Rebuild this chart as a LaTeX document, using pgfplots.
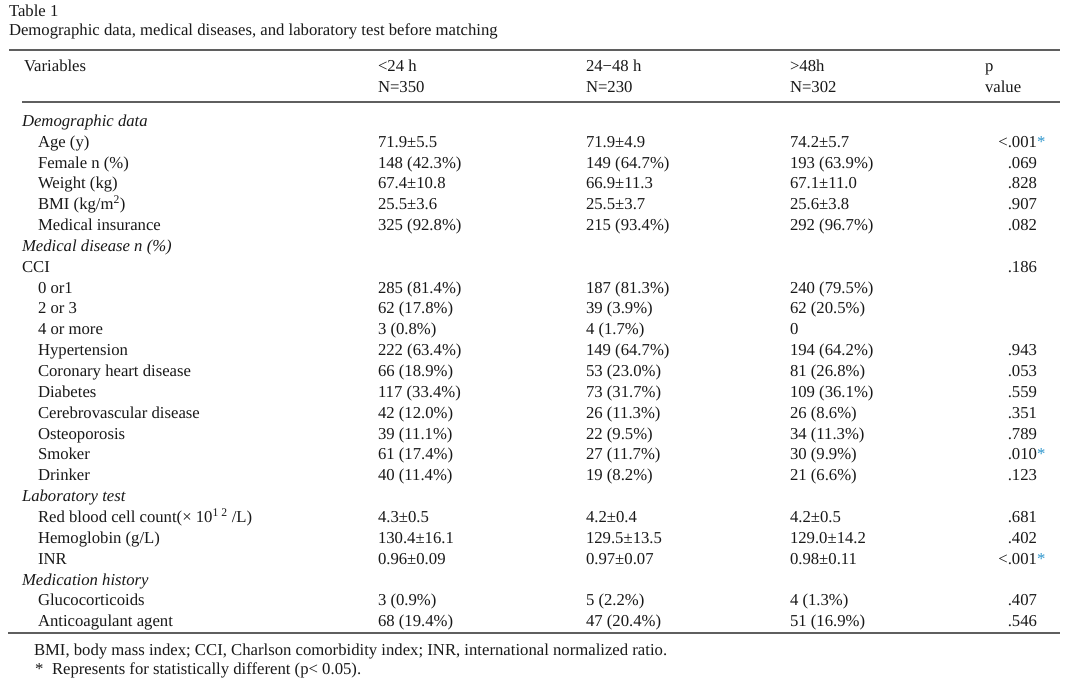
\documentclass[border=0pt]{standalone}
\usepackage{pgfplots}
\pgfplotsset{compat=1.18}
\usepackage{fontspec}
\setmainfont{Liberation Serif}
\definecolor{star}{RGB}{45,150,205}
\definecolor{rulec}{RGB}{95,95,95}
\definecolor{txt}{RGB}{25,25,25}
\newcommand{\fs}{\fontsize{16.7bp}{19bp}\selectfont}
\newcommand{\st}{\rlap{\textcolor{star}{*}}}
\newcommand{\R}[7]{%
  \node[anchor=base west] at (axis cs:#1,{126.3+20.85*#2}) {#3};
  \node[anchor=base west] at (axis cs:378,{126.3+20.85*#2}) {#4};
  \node[anchor=base west] at (axis cs:586,{126.3+20.85*#2}) {#5};
  \node[anchor=base west] at (axis cs:790,{126.3+20.85*#2}) {#6};
  \node[anchor=base east] at (axis cs:1037,{126.3+20.85*#2}) {#7};
}
\begin{document}
\begin{tikzpicture}[every node/.style={inner sep=0pt, outer sep=0pt, font=\fs, text=txt}]
\begin{axis}[hide axis, scale only axis, width=1080bp, height=683bp,
  xmin=0, xmax=1080, ymin=0, ymax=683, y dir=reverse, clip=false]
\fill[white] (axis cs:0,0) rectangle (axis cs:1080,683);
% title
\node[anchor=base west] at (axis cs:9,17) {Table 1};
\node[anchor=base west] at (axis cs:9,36) {Demographic data, medical diseases, and laboratory test before matching};
% rules
\draw[rulec, line width=1.5bp] (axis cs:9,50) -- (axis cs:1060,50);
\draw[rulec, line width=1.5bp] (axis cs:22,102) -- (axis cs:1060,102);
\draw[rulec, line width=1.5bp] (axis cs:8,633) -- (axis cs:1060,633);
% header
\node[anchor=base west] at (axis cs:24,72) {Variables};
\node[anchor=base west] at (axis cs:378,72) {<24 h};
\node[anchor=base west] at (axis cs:378,92) {N=350};
\node[anchor=base west] at (axis cs:586,72) {24−48 h};
\node[anchor=base west] at (axis cs:586,92) {N=230};
\node[anchor=base west] at (axis cs:790,72) {>48h};
\node[anchor=base west] at (axis cs:790,92) {N=302};
\node[anchor=base west] at (axis cs:985,72) {p};
\node[anchor=base west] at (axis cs:985,92) {value};
% body
\R{22}{0}{\textit{Demographic data}}{}{}{}{}
\R{38}{1}{Age (y)}{71.9±5.5}{71.9±4.9}{74.2±5.7}{<.001\st}
\R{38}{2}{Female n (\%)}{148 (42.3\%)}{149 (64.7\%)}{193 (63.9\%)}{.069}
\R{38}{3}{Weight (kg)}{67.4±10.8}{66.9±11.3}{67.1±11.0}{.828}
\R{38}{4}{BMI (kg/m\textsuperscript{2})}{25.5±3.6}{25.5±3.7}{25.6±3.8}{.907}
\R{38}{5}{Medical insurance}{325 (92.8\%)}{215 (93.4\%)}{292 (96.7\%)}{.082}
\R{22}{6}{\textit{Medical disease n (\%)}}{}{}{}{}
\R{22}{7}{CCI}{}{}{}{.186}
\R{38}{8}{0 or1}{285 (81.4\%)}{187 (81.3\%)}{240 (79.5\%)}{}
\R{38}{9}{2 or 3}{62 (17.8\%)}{39 (3.9\%)}{62 (20.5\%)}{}
\R{38}{10}{4 or more}{3 (0.8\%)}{4 (1.7\%)}{0}{}
\R{38}{11}{Hypertension}{222 (63.4\%)}{149 (64.7\%)}{194 (64.2\%)}{.943}
\R{38}{12}{Coronary heart disease}{66 (18.9\%)}{53 (23.0\%)}{81 (26.8\%)}{.053}
\R{38}{13}{Diabetes}{117 (33.4\%)}{73 (31.7\%)}{109 (36.1\%)}{.559}
\R{38}{14}{Cerebrovascular disease}{42 (12.0\%)}{26 (11.3\%)}{26 (8.6\%)}{.351}
\R{38}{15}{Osteoporosis}{39 (11.1\%)}{22 (9.5\%)}{34 (11.3\%)}{.789}
\R{38}{16}{Smoker}{61 (17.4\%)}{27 (11.7\%)}{30 (9.9\%)}{.010\st}
\R{38}{17}{Drinker}{40 (11.4\%)}{19 (8.2\%)}{21 (6.6\%)}{.123}
\R{22}{18}{\textit{Laboratory test}}{}{}{}{}
\R{38}{19}{Red blood cell count(× 10\textsuperscript{1 2} /L)}{4.3±0.5}{4.2±0.4}{4.2±0.5}{.681}
\R{38}{20}{Hemoglobin (g/L)}{130.4±16.1}{129.5±13.5}{129.0±14.2}{.402}
\R{38}{21}{INR}{0.96±0.09}{0.97±0.07}{0.98±0.11}{<.001\st}
\R{22}{22}{\textit{Medication history}}{}{}{}{}
\R{38}{23}{Glucocorticoids}{3 (0.9\%)}{5 (2.2\%)}{4 (1.3\%)}{.407}
\R{38}{24}{Anticoagulant agent}{68 (19.4\%)}{47 (20.4\%)}{51 (16.9\%)}{.546}
% footnotes
\node[anchor=base west] at (axis cs:34,655) {BMI, body mass index; CCI, Charlson comorbidity index; INR, international normalized ratio.};
\node[anchor=base west] at (axis cs:35,674) {*};
\node[anchor=base west] at (axis cs:52,674) {Represents for statistically different (p< 0.05).};
\end{axis}
\end{tikzpicture}
\end{document}
